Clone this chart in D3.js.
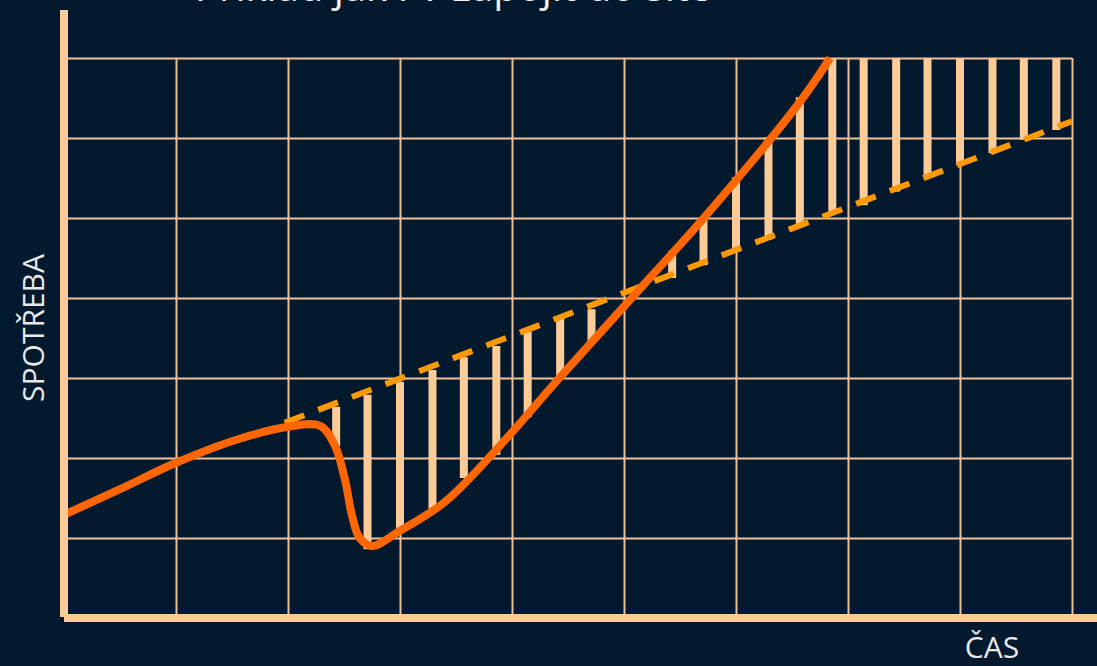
<!DOCTYPE html>
<html>
<head>
<meta charset="utf-8">
<script src="https://cdn.jsdelivr.net/npm/d3@7"></script>
<style>
  html, body { margin: 0; padding: 0; background: #03192e; }
  svg { display: block; }
</style>
</head>
<body>
<svg id="chart"></svg>
<script>
// grid ticks (time columns, consumption rows)
var colTicks = [1, 2, 3, 4, 5, 6, 7, 8, 9];
var rowTicks = [1, 2, 3, 4, 5, 6, 7];

// solid consumption curve
var curveX = [0, 0.5, 1, 1.5, 2, 2.29, 2.42, 2.51, 2.57, 2.64, 2.75, 3.0, 3.4, 3.89, 4.43, 5.23, 5.70, 6.57, 6.84];
var curveY = [1.29, 1.61, 1.94, 2.21, 2.39, 2.40, 2.15, 1.72, 1.29, 1.00, 0.90, 1.09, 1.45, 2.15, 3.01, 4.25, 4.98, 6.45, 7.00];

// dashed trend line
var trendX = [1.97, 9];
var trendY = [2.44, 6.21];

// vertical difference bars
var barX   = [2.43, 2.71, 3.0, 3.29, 3.57, 3.86, 4.14, 4.43, 4.71,
              5.43, 5.71, 6.0, 6.29, 6.57, 6.86, 7.14, 7.43, 7.71, 8.0, 8.29, 8.57, 8.86];
var barTop = [2.64, 2.79, 2.95, 3.10, 3.26, 3.40, 3.58, 3.74, 3.86,
              4.59, 5.0, 5.51, 6.01, 6.51, 7, 7, 7, 7, 7, 7, 7, 7];
var barBot = [2.15, 0.86, 1.09, 1.33, 1.75, 2.04, 2.51, 3.01, 3.44,
              4.25, 4.41, 4.58, 4.73, 4.89, 5.05, 5.16, 5.33, 5.51, 5.66, 5.81, 5.98, 6.10];

var width = 1097, height = 666;
var margin = { top: 58, left: 64 };
var plotW = 1008, plotH = 560;

var peach = '#ffcc99';

var svg = d3.select('#chart')
  .attr('width', width)
  .attr('height', height);

svg.append('rect')
  .attr('width', width).attr('height', height)
  .attr('fill', '#03192e');

var x = d3.scaleLinear().domain([0, 9]).range([margin.left, margin.left + plotW]);
var y = d3.scaleLinear().domain([0, 7]).range([margin.top + plotH, margin.top]);

// grid lines
var gx = svg.append('g')
  .attr('transform', 'translate(0,' + (margin.top + plotH) + ')')
  .call(d3.axisBottom(x).tickValues(colTicks).tickSize(-plotH).tickFormat(''));
var gy = svg.append('g')
  .attr('transform', 'translate(' + margin.left + ',0)')
  .call(d3.axisLeft(y).tickValues(rowTicks).tickSize(-plotW).tickFormat(''));
[gx, gy].forEach(function(g) {
  g.select('.domain').remove();
  g.selectAll('line').attr('stroke', '#eec295').attr('stroke-width', 2);
});

// bars
svg.append('g')
    .attr('fill', peach)
  .selectAll('rect').data(barX).enter().append('rect')
    .attr('x', d => x(d) - 4)
    .attr('width', 8)
    .attr('y', (d, i) => y(barTop[i]))
    .attr('height', (d, i) => y(barBot[i]) - y(barTop[i]));

// dashed trend
var trend = trendX.map((d, i) => [d, trendY[i]]);
svg.append('path')
  .datum(trend)
  .attr('fill', 'none')
  .attr('stroke', '#ff9900')
  .attr('stroke-width', 6)
  .attr('stroke-dasharray', '21 15')
  .attr('d', d3.line().x(d => x(d[0])).y(d => y(d[1])));

// solid curve
var pts = curveX.map((d, i) => [d, curveY[i]]);
svg.append('path')
  .datum(pts)
  .attr('fill', 'none')
  .attr('stroke', '#ff6600')
  .attr('stroke-width', 8)
  .attr('stroke-linejoin', 'round')
  .attr('d', d3.line().curve(d3.curveCatmullRom.alpha(0.5)).x(d => x(d[0])).y(d => y(d[1])));

// axes (thick bars)
svg.append('line')
  .attr('x1', margin.left).attr('x2', margin.left)
  .attr('y1', 10).attr('y2', 617)
  .attr('stroke', peach).attr('stroke-width', 8);
svg.append('line')
  .attr('x1', margin.left).attr('x2', width)
  .attr('y1', 618).attr('y2', 618)
  .attr('stroke', peach).attr('stroke-width', 8);

// texts
svg.append('text')
  .attr('x', 195).attr('y', 1)
  .style('font-family', '"Open Sans", sans-serif')
  .style('font-size', '40px')
  .attr('fill', '#f2f2f2')
  .text('Příklad jak FV zapojit do sítě');

svg.append('text')
  .attr('transform', 'translate(44,328) rotate(-90)')
  .style('text-anchor', 'middle')
  .style('font-family', '"Open Sans", sans-serif')
  .style('font-size', '30px')
  .attr('fill', '#e8e8e8')
  .text('SPOTŘEBA');

svg.append('text')
  .attr('x', 992).attr('y', 658)
  .style('text-anchor', 'middle')
  .style('font-family', '"Open Sans", sans-serif')
  .style('font-size', '30px')
  .attr('fill', '#e8e8e8')
  .text('ČAS');
</script>
</body>
</html>
